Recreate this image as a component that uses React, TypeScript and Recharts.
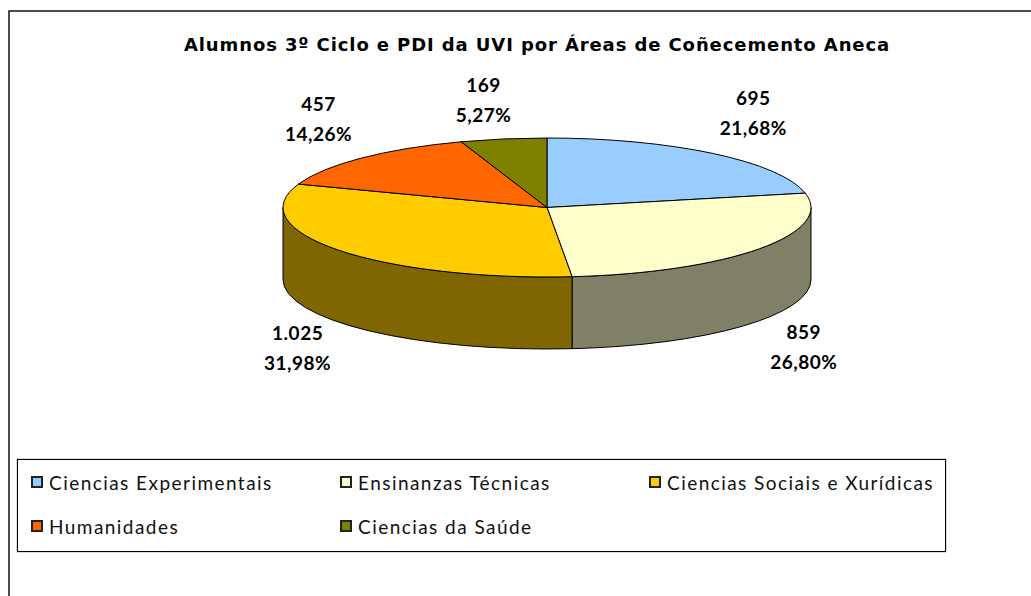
import { PieChart, Pie, Legend } from "recharts";

const areas = [
  "Ciencias Experimentais",
  "Ensinanzas Técnicas",
  "Ciencias Sociais e Xurídicas",
  "Humanidades",
  "Ciencias da Saúde",
];
const alumnos = [695, 859, 1025, 457, 169];
const countLabels = ["695", "859", "1.025", "457", "169"];
const percentLabels = ["21,68%", "26,80%", "31,98%", "14,26%", "5,27%"];
const topColors = ["#99CCFF", "#FFFFCC", "#FFCC00", "#FF6600", "#808000"];
const wallColors = ["#4D6680", "#808066", "#806600", "#803300", "#404000"];

const rows = areas.map((name, i) => ({
  name,
  value: alumnos[i],
  fill: topColors[i],
  wall: wallColors[i],
}));

const FONT = "Lato, 'Open Sans', sans-serif";
const RX = 264;
const RY = 69.5;
const DEPTH = 72;
// label nudge from the rim of each slice
const nudges = [
  [40, -55],
  [44, 84],
  [-41, 84],
  [-43, -53],
  [-20, -53],
];

// recharts angle (90 = top, going negative clockwise) to a point on the ellipse
function rim(cx: number, cy: number, angle: number) {
  const t = (angle * Math.PI) / 180;
  return [cx + RX * Math.cos(t), cy - RY * Math.sin(t)];
}

function TopFace(props: any) {
  const { cx, cy, startAngle, endAngle, fill } = props;
  const [x0, y0] = rim(cx, cy, startAngle);
  const [x1, y1] = rim(cx, cy, endAngle);
  const large = Math.abs(endAngle - startAngle) > 180 ? 1 : 0;
  return (
    <path
      d={`M${cx},${cy} L${x0},${y0} A${RX},${RY} 0 ${large} 1 ${x1},${y1} Z`}
      fill={fill}
      stroke="#000"
      strokeWidth={1}
    />
  );
}

// only the part of a slice in the front half (0 to -180) has a visible wall
function WallFace(props: any) {
  const { cx, cy, startAngle, endAngle, payload } = props;
  const from = Math.min(startAngle, 0);
  const to = Math.max(endAngle, -180);
  if (from <= to) return null;
  const [x0, y0] = rim(cx, cy, from);
  const [x1, y1] = rim(cx, cy, to);
  return (
    <path
      d={`M${x0},${y0} A${RX},${RY} 0 0 1 ${x1},${y1} L${x1},${y1 + DEPTH} A${RX},${RY} 0 0 0 ${x0},${y0 + DEPTH} Z`}
      fill={payload.wall}
      stroke="#000"
      strokeWidth={1}
    />
  );
}

function SliceLabel(props: any) {
  const { cx, cy, midAngle, index } = props;
  const [x, y] = rim(cx, cy, midAngle);
  const [dx, dy] = nudges[index];
  return (
    <text
      textAnchor="middle"
      fontFamily={FONT}
      fontWeight={700}
      fontSize={19}
      letterSpacing={0.5}
      fill="#000"
    >
      <tspan x={x + dx} y={y + dy + 6}>
        {countLabels[index]}
      </tspan>
      <tspan x={x + dx} y={y + dy + 36}>
        {percentLabels[index]}
      </tspan>
    </text>
  );
}

function LegendBox({ payload }: any) {
  // both pies report into the payload, keep one entry per area in data order
  const entries = areas.map((a) => (payload || []).find((p: any) => p.value === a)).filter(Boolean);
  return (
    <div
      style={{
        boxSizing: "border-box",
        width: 929,
        height: 93,
        border: "1px solid #000",
        boxShadow: "0 0 1px #333",
        display: "grid",
        gridTemplateColumns: "309px 309px 1fr",
        gridAutoRows: 44,
        padding: "0 0 3px 13px",
        alignContent: "center",
        fontFamily: FONT,
        fontSize: 19,
        color: "#111",
        letterSpacing: 1.45,
      }}
    >
      {entries.map((entry: any) => (
        <div
          key={entry.value}
          style={{ display: "flex", alignItems: "center", whiteSpace: "nowrap" }}
        >
          <span
            style={{
              boxSizing: "border-box",
              width: 12,
              height: 12,
              marginRight: 6,
              border: "2px solid #222",
              background: entry.color,
            }}
          />
          {entry.value}
        </div>
      ))}
    </div>
  );
}

export default function App() {
  return (
    <div style={{ position: "absolute", left: 0, top: 0 }}>
      <PieChart width={1031} height={596} margin={{ top: 0, right: 0, bottom: 0, left: 0 }}>
        <path d="M9,596 L9,11 L1031,11" fill="none" stroke="#111" strokeWidth={1.5} />
        <text
          x={537}
          y={51}
          textAnchor="middle"
          fontFamily="'DejaVu Sans', sans-serif"
          fontWeight={700}
          fontSize={18}
          letterSpacing={0.9}
          fill="#000"
        >
          Alumnos 3º Ciclo e PDI da UVI por Áreas de Coñecemento Aneca
        </text>
        <Pie
          data={rows}
          dataKey="value"
          nameKey="name"
          cx={547}
          cy={207.5}
          outerRadius={RX}
          startAngle={90}
          endAngle={-270}
          paddingAngle={0}
          shape={WallFace}
          legendType="none"
          isAnimationActive={false}
        />
        <Pie
          data={rows}
          dataKey="value"
          nameKey="name"
          cx={547}
          cy={207.5}
          outerRadius={RX}
          startAngle={90}
          endAngle={-270}
          paddingAngle={0}
          shape={TopFace}
          label={SliceLabel}
          labelLine={false}
          isAnimationActive={false}
        />
        <Legend
          content={LegendBox}
          wrapperStyle={{ position: "absolute", left: 17, top: 459, width: 929, height: 93 }}
        />
      </PieChart>
    </div>
  );
}
